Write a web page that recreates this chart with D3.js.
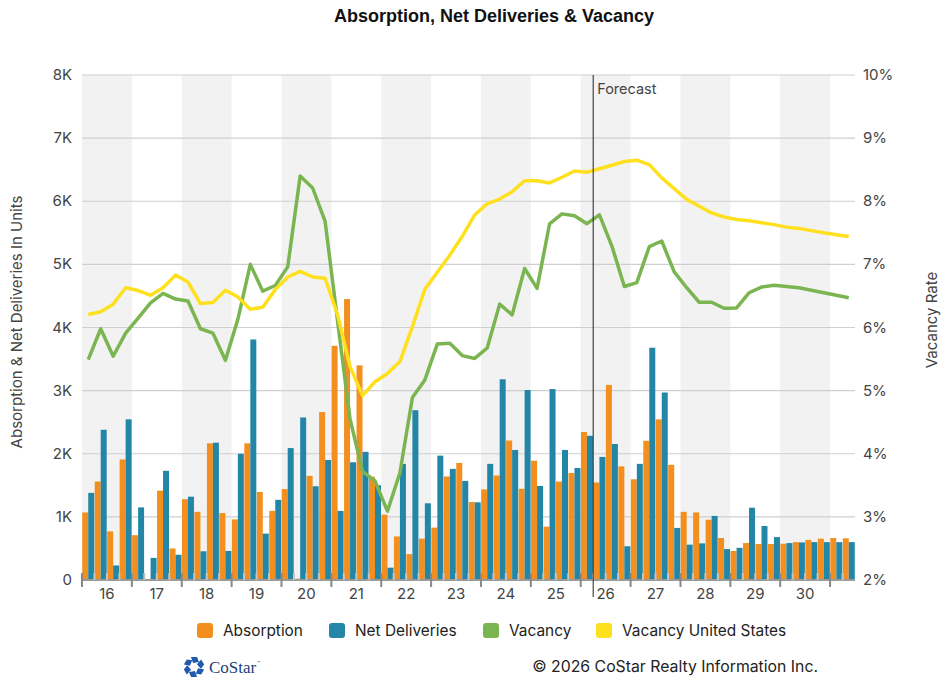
<!DOCTYPE html>
<html>
<head>
<meta charset="utf-8">
<script src="https://cdn.jsdelivr.net/npm/d3@7"></script>
<style>
  body { margin: 0; background: #fff; }
  svg { display: block; font-family: Inter, "Noto Sans", sans-serif; }
</style>
</head>
<body>
<svg width="941" height="678"></svg>
<script>
// chart data, quarterly 2016 Q1 .. 2031 Q2
const years = ["16","17","18","19","20","21","22","23","24","25","26","27","28","29","30","31"];
const quarterNames = ["Q1","Q2","Q3","Q4"];
const forecastStart = "2026 Q2";

const absorption = [
  1070, 1560, 770, 1910,   710, 15, 1415, 500,   1280, 1080, 2165, 1060,
  960, 2165, 1395, 1095,   1440, 20, 1650, 2660,   3710, 4450, 3400, 1635,
  1035, 690, 410, 655,   830, 1640, 1855, 1235,   1435, 1655, 2210, 1445,
  1890, 845, 1560, 1695,   2345, 1545, 3090, 1800,   1595, 2205, 2545, 1825,
  1080, 1070, 955, 665,   460, 585, 570, 570,   575, 600, 635, 655,   665, 660
];
const deliveries = [
  1380, 2380, 230, 2545,   1150, 350, 1730, 400,   1320, 455, 2175, 460,
  2000, 3810, 735, 1270,   2090, 2575, 1485, 1900,   1095, 1865, 2030, 1500,
  195, 1840, 2690, 1215,   1970, 1760, 1570, 1230,   1840, 3180, 2060, 3010,
  1490, 3025, 2060, 1775,   2285, 1950, 2155, 535,   1840, 3680, 2970, 825,
  560, 580, 1015, 490,   510, 1145, 855, 680,   585, 595, 600, 600,   600, 600
];
const vacancy = [
  5.49, 5.98, 5.545, 5.91,   6.15, 6.39, 6.54, 6.45,   6.42, 5.98, 5.91, 5.48,
  6.13, 7.0, 6.575, 6.665,   6.96, 8.40, 8.21, 7.68,   6.1, 4.55, 3.72, 3.57,
  3.09, 3.70, 4.89, 5.17,   5.74, 5.75, 5.555, 5.51,   5.675, 6.37, 6.20, 6.935,
  6.62, 7.64, 7.80, 7.77,   7.645, 7.785, 7.29, 6.65,   6.71, 7.28, 7.37, 6.88,
  6.63, 6.40, 6.40, 6.305,   6.31, 6.55, 6.64, 6.67,   6.65, 6.63, 6.59, 6.55,   6.51, 6.47
];
const vacancyUS = [
  6.205, 6.25, 6.37, 6.63,   6.585, 6.51, 6.63, 6.83,   6.72, 6.38, 6.395, 6.59,
  6.485, 6.29, 6.32, 6.60,   6.80, 6.89, 6.80, 6.78,   6.20, 5.38, 4.92, 5.14,
  5.27, 5.46, 6.015, 6.605,   6.875, 7.145, 7.445, 7.785,   7.96, 8.035, 8.15, 8.325,
  8.325, 8.29, 8.38, 8.48,   8.46, 8.515, 8.57, 8.63,   8.65, 8.58, 8.37, 8.20,
  8.03, 7.92, 7.815, 7.75,   7.71, 7.69, 7.66, 7.63,   7.59, 7.57, 7.535, 7.50,   7.47, 7.44
];
const leftTicks = [0, 1000, 2000, 3000, 4000, 5000, 6000, 7000, 8000];
const rightTicks = [2, 3, 4, 5, 6, 7, 8, 9, 10];

// quarter keys
const quarters = [];
years.forEach(y => quarterNames.forEach(q => quarters.push("20" + y + " " + q)));
quarters.length = absorption.length;

const svg = d3.select("svg");
const plotLeft = 82, plotRight = 855, plotTop = 75, plotBottom = 580;

const x = d3.scaleBand().domain(quarters).range([plotLeft, plotRight]).padding(0);
const xs = d3.scaleBand().domain(["abs", "del"]).range([0, x.bandwidth()]).paddingOuter(0.04);
const yL = d3.scaleLinear().domain([0, 8000]).range([plotBottom, plotTop]);
const yR = d3.scaleLinear().domain([2, 10]).range([plotBottom, plotTop]);

const colors = { abs: "#F28F1F", del: "#2386A6", vac: "#7BB551", us: "#FFE01F" };

//title
svg.append("text")
  .attr("x", 494).attr("y", 22)
  .attr("text-anchor", "middle")
  .attr("font-family", "'Liberation Sans', Arial, sans-serif")
  .attr("font-size", 18).attr("font-weight", 700).attr("fill", "#111")
  .text("Absorption, Net Deliveries & Vacancy");

//alternating year bands
const yearStarts = years.filter((y, i) => i * 4 < quarters.length);
svg.append("g").selectAll("rect")
  .data(yearStarts.filter((d, i) => i % 2 === 0))
  .enter().append("rect")
  .attr("x", d => x("20" + d + " Q1"))
  .attr("y", plotTop)
  .attr("width", x.bandwidth() * 4)
  .attr("height", plotBottom - plotTop)
  .attr("fill", "#F2F2F2");

//gridlines
svg.append("g").selectAll("line")
  .data(leftTicks.slice(1))
  .enter().append("line")
  .attr("x1", plotLeft).attr("x2", plotRight)
  .attr("y1", d => yL(d)).attr("y2", d => yL(d))
  .attr("stroke", "#cfcfcf").attr("stroke-width", 1.2);

//bars
const bars = svg.append("g");
bars.selectAll("rect.abs")
  .data(quarters)
  .enter().append("rect")
  .attr("class", "abs")
  .attr("x", d => x(d) + xs("abs"))
  .attr("width", xs.bandwidth())
  .attr("y", (d, i) => yL(absorption[i]))
  .attr("height", (d, i) => plotBottom - yL(absorption[i]))
  .attr("fill", colors.abs);
bars.selectAll("rect.del")
  .data(quarters)
  .enter().append("rect")
  .attr("class", "del")
  .attr("x", d => x(d) + xs("del"))
  .attr("width", xs.bandwidth())
  .attr("y", (d, i) => yL(deliveries[i]))
  .attr("height", (d, i) => plotBottom - yL(deliveries[i]))
  .attr("fill", colors.del);

//lines
const line = values => d3.line()
  .x((d, i) => x(quarters[i]) + x.bandwidth() / 2)
  .y(d => yR(d))(values);

svg.append("path")
  .attr("d", line(vacancy))
  .attr("fill", "none").attr("stroke", colors.vac)
  .attr("stroke-width", 3.5).attr("stroke-linejoin", "round");
svg.append("path")
  .attr("d", line(vacancyUS))
  .attr("fill", "none").attr("stroke", colors.us)
  .attr("stroke-width", 3.5).attr("stroke-linejoin", "round");

//x axis
const ax = svg.append("g");
ax.append("line")
  .attr("x1", plotLeft).attr("x2", plotRight)
  .attr("y1", plotBottom).attr("y2", plotBottom)
  .attr("stroke", "#9a9a9a").attr("stroke-width", 2);
ax.selectAll("line.minor")
  .data(quarters.filter((d, i) => i % 4 !== 0))
  .enter().append("line")
  .attr("class", "minor")
  .attr("x1", d => x(d)).attr("x2", d => x(d))
  .attr("y1", plotBottom - 7).attr("y2", plotBottom)
  .attr("stroke", "#c4c4c4").attr("stroke-width", 2);
ax.selectAll("line.major")
  .data(yearStarts)
  .enter().append("line")
  .attr("class", "major")
  .attr("x1", d => x("20" + d + " Q1")).attr("x2", d => x("20" + d + " Q1"))
  .attr("y1", plotBottom - 7).attr("y2", plotBottom + 7)
  .attr("stroke", "#888").attr("stroke-width", 2);
ax.selectAll("text")
  .data(yearStarts.filter(d => quarters.indexOf("20" + d + " Q4") >= 0))
  .enter().append("text")
  .attr("x", d => x("20" + d + " Q1") + x.bandwidth() * 2)
  .attr("y", 599)
  .attr("text-anchor", "middle")
  .attr("font-size", 15).attr("fill", "#444")
  .text(d => d);

//y axis labels
svg.append("g").selectAll("text")
  .data(leftTicks)
  .enter().append("text")
  .attr("x", 72).attr("y", d => yL(d) + 5)
  .attr("text-anchor", "end")
  .attr("font-size", 15).attr("fill", "#444")
  .text(d => d === 0 ? "0" : (d / 1000) + "K");
svg.append("g").selectAll("text")
  .data(rightTicks)
  .enter().append("text")
  .attr("x", 863).attr("y", d => yR(d) + 5)
  .attr("font-size", 15).attr("fill", "#444")
  .text(d => d + "%");

svg.append("text")
  .attr("transform", "translate(22,322) rotate(-90)")
  .attr("text-anchor", "middle")
  .attr("font-size", 15).attr("fill", "#444")
  .text("Absorption & Net Deliveries In Units");
svg.append("text")
  .attr("transform", "translate(937,320) rotate(-90)")
  .attr("text-anchor", "middle")
  .attr("font-size", 15).attr("fill", "#444")
  .text("Vacancy Rate");

//forecast marker
const fx = x(forecastStart);
svg.append("line")
  .attr("x1", fx).attr("x2", fx)
  .attr("y1", plotTop).attr("y2", 597)
  .attr("stroke", "#222").attr("stroke-width", 1);
svg.append("text")
  .attr("x", fx + 4).attr("y", 94)
  .attr("font-size", 14.5).attr("fill", "#444")
  .text("Forecast");

//legend
const legendItems = [
  { name: "Absorption", color: colors.abs, x: 197 },
  { name: "Net Deliveries", color: colors.del, x: 329 },
  { name: "Vacancy", color: colors.vac, x: 483 },
  { name: "Vacancy United States", color: colors.us, x: 596 }
];
const lg = svg.append("g").selectAll("g")
  .data(legendItems)
  .enter().append("g")
  .attr("transform", d => `translate(${d.x},623)`);
lg.append("rect")
  .attr("width", 16).attr("height", 15).attr("rx", 3)
  .attr("fill", d => d.color);
lg.append("text")
  .attr("x", 26).attr("y", 13)
  .attr("font-size", 15.4).attr("fill", "#222")
  .text(d => d.name);

//footer
const logo = svg.append("g").attr("transform", "translate(194,667)");
d3.range(6).forEach(i => {
  logo.append("path")
    .attr("d", "M-3,-10 L3,-10 L5,-5 L-1,-4 Z")
    .attr("transform", `rotate(${i * 60})`)
    .attr("fill", "#1F5BAA");
});
svg.append("text")
  .attr("x", 209).attr("y", 673)
  .attr("font-family", "'Liberation Serif', 'DejaVu Serif', serif")
  .attr("font-size", 17).attr("fill", "#1d3f75")
  .text("CoStar");
svg.append("text")
  .attr("x", 257).attr("y", 665)
  .attr("font-size", 5).attr("fill", "#1d3f75")
  .text("™");
svg.append("text")
  .attr("x", 818).attr("y", 672)
  .attr("text-anchor", "end")
  .attr("font-size", 15.8).attr("fill", "#222")
  .text("© 2026 CoStar Realty Information Inc.");
</script>
</body>
</html>
